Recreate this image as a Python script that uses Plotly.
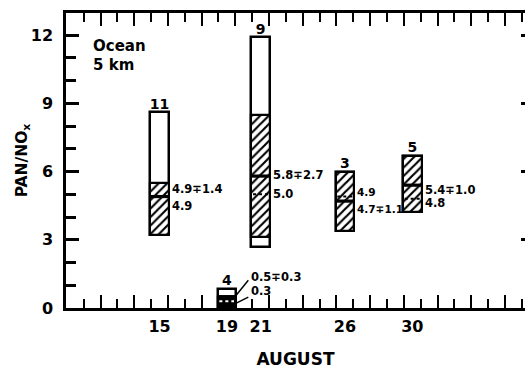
import plotly.graph_objects as go

# ---- data ----
days = [15, 19, 21, 26, 30]
day_labels = ["15", "19", "21", "26", "30"]
counts = [11, 4, 9, 3, 5]
range_lo = [3.2, 0.0, 2.7, 3.4, 4.2]
range_hi = [8.6, 0.85, 11.9, 6.0, 6.7]
hatch_lo = [3.2, 0.0, 3.1, 3.4, 4.2]
hatch_hi = [5.5, 0.5, 8.5, 6.0, 6.7]
means = [4.9, 0.5, 5.8, 4.7, 5.4]
sds = [1.4, 0.3, 2.7, 1.1, 1.0]
medians = [4.9, 0.3, 5.0, 4.9, 4.8]
y_major = [0, 3, 6, 9, 12]

# ---- placement / style (not data) ----
BOX_W = 1.1
FONT = "DejaVu Sans"
mean_label_on_top = [True, True, True, False, True]
upper_label_y = [5.22, 1.38, 5.84, 5.08, 5.18]
lower_label_y = [4.47, 0.76, 5.03, 4.37, 4.62]
label_x_off = [0.55, 1.25, 0.55, 0.55, 0.55]
label_size = [11.5, 11.5, 11.5, 10.5, 11.5]

XR = [9.45, 36.69]
YR = [0, 12.97]

fig = go.Figure()

# outer range boxes
fig.add_trace(go.Bar(
    x=days, y=[h - l for h, l in zip(range_hi, range_lo)], base=range_lo,
    width=BOX_W, marker=dict(color="white", line=dict(color="black", width=2.5)),
    showlegend=False, hoverinfo="skip"))

# hatched boxes
solid = [1.0 if d == 19 else 0.36 for d in days]
fig.add_trace(go.Bar(
    x=days, y=[h - l for h, l in zip(hatch_hi, hatch_lo)], base=hatch_lo,
    width=BOX_W,
    marker=dict(color="white", line=dict(color="black", width=2.2),
                pattern=dict(shape="/", fgcolor="black", bgcolor="white",
                             size=6, solidity=solid, fillmode="replace")),
    showlegend=False, hoverinfo="skip"))

# mean lines (thick solid)
mx, my = [], []
for d, m in zip(days, means):
    mx += [d - BOX_W / 2, d + BOX_W / 2, None]
    my += [m, m, None]
fig.add_trace(go.Scatter(x=mx, y=my, mode="lines",
                         line=dict(color="black", width=3.2),
                         showlegend=False, hoverinfo="skip"))

# median lines (dotted)
for d, md in zip(days, medians):
    col = "white" if d == 19 else "black"
    fig.add_trace(go.Scatter(x=[d - BOX_W / 2 + 0.1, d + BOX_W / 2 - 0.1], y=[md, md],
                             mode="lines", line=dict(color=col, width=2, dash="dot"),
                             showlegend=False, hoverinfo="skip"))

# counts above boxes
fig.add_trace(go.Scatter(x=days, y=range_hi, mode="text", text=[str(c) for c in counts],
                         textposition="top center",
                         textfont=dict(family=FONT, size=14, color="black", weight="bold"),
                         showlegend=False, hoverinfo="skip"))

# invisible trace on the label axes
fig.add_trace(go.Scatter(x=[days[0]], y=[0], xaxis="x2", yaxis="y2", mode="markers",
                         marker=dict(opacity=0), showlegend=False, hoverinfo="skip"))

annotations = []
for i, d in enumerate(days):
    ms = f"{means[i]:.1f}\u2213{sds[i]:.1f}"
    md = f"{medians[i]:.1f}"
    up, lo = (ms, md) if mean_label_on_top[i] else (md, ms)
    for txt, yy in ((up, upper_label_y[i]), (lo, lower_label_y[i])):
        annotations.append(dict(x=d + label_x_off[i], y=yy, xref="x", yref="y",
                                text=txt, showarrow=False, xanchor="left", yanchor="middle",
                                xshift=1,
                                font=dict(family=FONT, size=label_size[i], color="black",
                                          weight="bold")))

annotations.append(dict(x=10.95, y=11.54, xref="x", yref="y", text="Ocean", showarrow=False,
                        xanchor="left", yanchor="middle",
                        font=dict(family=FONT, size=15, color="black", weight="bold")))
annotations.append(dict(x=10.95, y=10.70, xref="x", yref="y", text="5 km", showarrow=False,
                        xanchor="left", yanchor="middle",
                        font=dict(family=FONT, size=15, color="black", weight="bold")))

shapes = [
    dict(type="line", xref="x", yref="y", x0=19.38, y0=0.41, x1=20.27, y1=1.22,
         line=dict(color="black", width=1.5)),
    dict(type="line", xref="x", yref="y", x0=19.38, y0=0.15, x1=20.27, y1=0.48,
         line=dict(color="black", width=1.5)),
]

long_ticks = [k + 0.5 for k in range(11, 37, 2)]
short_ticks = [k + 0.5 for k in range(10, 37, 2)]
y_minor = [v for v in range(0, 13) if v not in y_major]

fig.update_layout(
    width=525, height=369,
    margin=dict(l=66, r=0, t=13, b=61),
    paper_bgcolor="white", plot_bgcolor="white",
    barmode="overlay", bargap=0,
    showlegend=False,
    annotations=annotations, shapes=shapes,
    xaxis=dict(range=XR, showline=True, linecolor="black", linewidth=2.5, mirror="ticks",
               ticks="inside", tickvals=long_ticks, ticklen=13, tickwidth=2, tickcolor="black",
               showticklabels=False, showgrid=False, zeroline=False,
               minor=dict(tickvals=short_ticks, ticks="inside", ticklen=9, tickwidth=2,
                          tickcolor="black", showgrid=False)),
    xaxis2=dict(range=XR, overlaying="x", anchor="y", side="bottom", showline=False,
                tickvals=days, ticktext=day_labels, ticks="outside", ticklen=4,
                tickcolor="rgba(0,0,0,0)", showgrid=False, zeroline=False,
                tickfont=dict(family=FONT, size=16, color="black", weight="bold"),
                title=dict(text="AUGUST", standoff=20,
                           font=dict(family=FONT, size=17, color="black", weight="bold"))),
    yaxis=dict(range=YR, showline=True, linecolor="black", linewidth=2.5,
               ticks="inside", tickvals=y_major, ticklen=13, tickwidth=2.5, tickcolor="black",
               ticklabelstandoff=7,
               tickfont=dict(family=FONT, size=16, color="black", weight="bold"),
               showgrid=False, zeroline=False,
               minor=dict(tickvals=y_minor, ticks="inside", ticklen=10, tickwidth=2.5,
                          tickcolor="black", showgrid=False),
               title=dict(text="PAN/NO<sub>x</sub>", standoff=0,
                          font=dict(family=FONT, size=15.5, color="black", weight="bold"))),
    yaxis2=dict(range=YR, overlaying="y", anchor="x", side="right", showline=False,
                ticks="inside", tickvals=y_major[1:], ticklen=4, tickwidth=2.5,
                tickcolor="black", showticklabels=False, showgrid=False, zeroline=False),
)

fig.write_html("out.html")
